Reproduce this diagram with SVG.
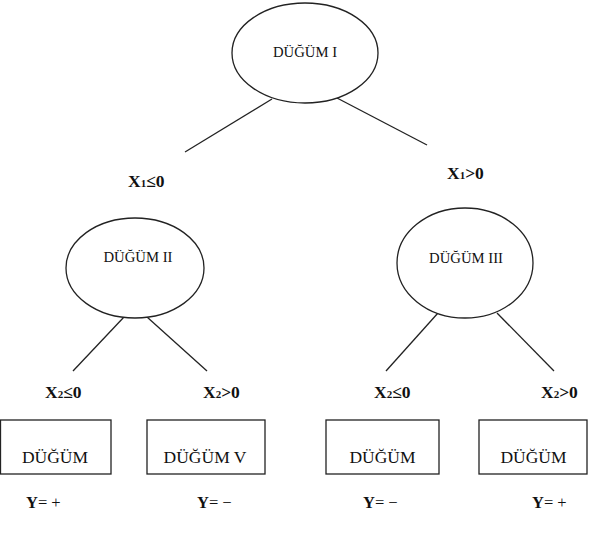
<svg xmlns="http://www.w3.org/2000/svg" width="597" height="535" viewBox="0 0 597 535">
  <style>
    .shape { fill: #ffffff; stroke: #222222; stroke-width: 1.3; }
    .edge { stroke: #222222; stroke-width: 1.3; fill: none; }
    .ntext { font-family: "Liberation Serif", "Times New Roman", serif; fill: #111111; text-anchor: middle; }
    .oval { font-size: 14.7px; }
    .boxt { font-size: 17.5px; }
    .cond { font-family: "Liberation Serif", "Times New Roman", serif; font-size: 17.5px; font-weight: bold; fill: #111111; }
    .res { font-family: "Liberation Serif", "Times New Roman", serif; font-size: 16.5px; fill: #111111; }
    .b { font-weight: bold; }
  </style>
  <rect width="597" height="535" fill="#ffffff"/>

  <!-- connectors -->
  <g id="connectors">
    <line class="edge" x1="272" y1="99" x2="185" y2="152"/>
    <line class="edge" x1="337" y1="98" x2="427" y2="145"/>
    <line class="edge" x1="124" y1="317" x2="73" y2="371"/>
    <line class="edge" x1="147" y1="317" x2="207" y2="371"/>
    <line class="edge" x1="438" y1="313" x2="386" y2="371"/>
    <line class="edge" x1="497" y1="313" x2="554" y2="371"/>
  </g>

  <!-- branch conditions -->
  <g id="conditions">
    <text class="cond" x="128" y="187">X<tspan font-size="11">1</tspan>≤0</text>
    <text class="cond" x="447" y="179">X<tspan font-size="11">1</tspan>&gt;0</text>
    <text class="cond" x="45" y="398">X<tspan font-size="11">2</tspan>≤0</text>
    <text class="cond" x="203" y="398">X<tspan font-size="11">2</tspan>&gt;0</text>
    <text class="cond" x="374" y="398">X<tspan font-size="11">2</tspan>≤0</text>
    <text class="cond" x="541" y="398">X<tspan font-size="11">2</tspan>&gt;0</text>
  </g>

  <!-- internal nodes -->
  <g id="node1">
    <ellipse class="shape" cx="305" cy="53" rx="73" ry="50"/>
    <text class="ntext oval" x="305" y="57">DÜĞÜM I</text>
  </g>
  <g id="node2">
    <ellipse class="shape" cx="135" cy="268" rx="69" ry="50"/>
    <text class="ntext oval" x="138" y="262">DÜĞÜM II</text>
  </g>
  <g id="node3">
    <ellipse class="shape" cx="465" cy="263" rx="68" ry="55"/>
    <text class="ntext oval" x="466" y="263">DÜĞÜM III</text>
  </g>

  <!-- leaf nodes -->
  <g id="leaf1">
    <rect class="shape" x="0.5" y="420" width="110.5" height="54"/>
    <text class="ntext boxt" x="55" y="463">DÜĞÜM</text>
  </g>
  <g id="leaf2">
    <rect class="shape" x="147" y="420" width="118" height="54"/>
    <text class="ntext boxt" x="205" y="463">DÜĞÜM V</text>
  </g>
  <g id="leaf3">
    <rect class="shape" x="326" y="420" width="113" height="54"/>
    <text class="ntext boxt" x="382.5" y="463">DÜĞÜM</text>
  </g>
  <g id="leaf4">
    <rect class="shape" x="479" y="420" width="108" height="54"/>
    <text class="ntext boxt" x="533.5" y="463">DÜĞÜM</text>
  </g>

  <!-- leaf outputs -->
  <g id="outputs">
    <text class="res" x="26" y="508"><tspan class="b">Y</tspan>= +</text>
    <text class="res" x="197" y="508"><tspan class="b">Y</tspan>= −</text>
    <text class="res" x="363" y="508"><tspan class="b">Y</tspan>= −</text>
    <text class="res" x="532" y="508"><tspan class="b">Y</tspan>= +</text>
  </g>
</svg>
